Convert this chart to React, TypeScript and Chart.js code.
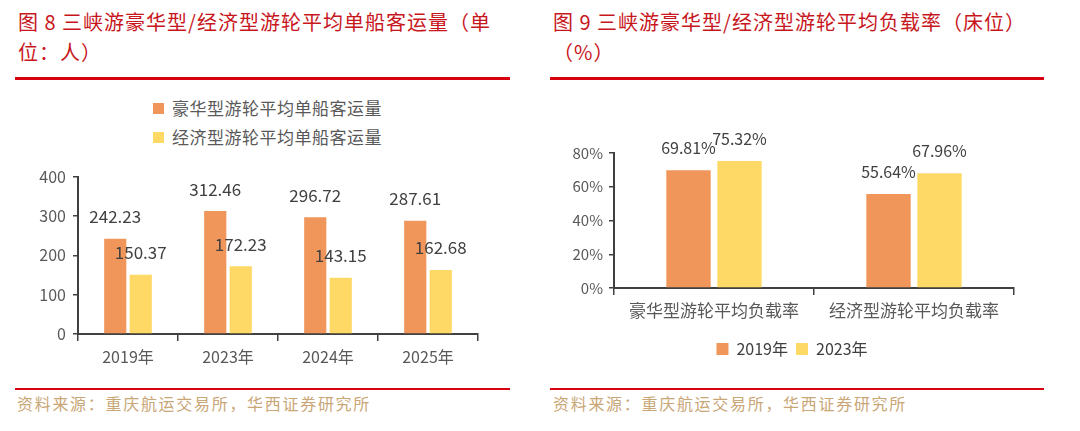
import React, { useEffect, useRef } from 'react';
import Chart from 'chart.js/auto';

// figure 8: average passengers per ship
const years = ['2019年', '2023年', '2024年', '2025年'];
const luxuryPax = [242.23, 312.46, 296.72, 287.61];
const economyPax = [150.37, 172.23, 143.15, 162.68];
const paxSeries = ['豪华型游轮平均单船客运量', '经济型游轮平均单船客运量'];

// figure 9: average load factor (berths)
const loadCats = ['豪华型游轮平均负载率', '经济型游轮平均负载率'];
const loadYears = ['2019年', '2023年'];
const load2019 = [69.81, 55.64];
const load2023 = [75.32, 67.96];

const ORANGE = '#F0965A';
const YELLOW = '#FFD966';
const RED = '#D7000F';
const TITLE_RED = '#C8161D';
const SOURCE = '#C9A676';
const AXIS = '#404040';
const FONT = '"Noto Sans CJK SC", "Noto Sans", sans-serif';

function valueLabels(fmt: (v: number) => string, size: number) {
  return {
    id: 'valueLabels',
    afterDatasetsDraw(chart: any) {
      const { ctx } = chart;
      ctx.save();
      ctx.font = `${size}px ${FONT}`;
      ctx.fillStyle = '#404040';
      ctx.textAlign = 'center';
      ctx.textBaseline = 'middle';
      chart.data.datasets.forEach((ds: any, i: number) => {
        chart.getDatasetMeta(i).data.forEach((bar: any, j: number) => {
          ctx.fillText(fmt(ds.data[j]), bar.x, bar.y - 22);
        });
      });
      ctx.restore();
    },
  };
}

function PaxChart() {
  const ref = useRef<HTMLCanvasElement | null>(null);

  useEffect(() => {
    if (!ref.current) return;
    const chart = new Chart(ref.current, {
      type: 'bar',
      data: {
        labels: years,
        datasets: [
          { label: paxSeries[0], data: luxuryPax, backgroundColor: ORANGE },
          { label: paxSeries[1], data: economyPax, backgroundColor: YELLOW },
        ],
      },
      options: {
        animation: false,
        responsive: true,
        maintainAspectRatio: false,
        layout: { padding: { top: 14, right: 12, left: 0, bottom: 0 } },
        datasets: { bar: { categoryPercentage: 0.51, barPercentage: 0.87 } },
        plugins: { legend: { display: false }, tooltip: { enabled: false } },
        scales: {
          x: {
            grid: { drawOnChartArea: false, tickLength: 7, color: AXIS, lineWidth: 1.5 },
            border: { color: AXIS, width: 2 },
            ticks: { font: { family: FONT, size: 16 }, color: '#595959', padding: 6 },
            afterFit: (s: any) => { s.height = 41; },
          },
          y: {
            min: 0,
            max: 400,
            grid: { drawOnChartArea: false, tickLength: 5, color: AXIS, lineWidth: 1.5 },
            border: { color: AXIS, width: 2 },
            ticks: { stepSize: 100, font: { family: FONT, size: 16 }, color: '#595959', padding: 7 },
            afterFit: (s: any) => { s.width = 58; },
          },
        },
      },
      plugins: [valueLabels((v) => v.toFixed(2), 17)],
    });
    return () => chart.destroy();
  }, []);

  return (
    <div style={{ position: 'absolute', left: 20, top: 160, width: 470, height: 215 }}>
      <canvas ref={ref}></canvas>
    </div>
  );
}

function LoadChart() {
  const ref = useRef<HTMLCanvasElement | null>(null);

  useEffect(() => {
    if (!ref.current) return;
    const chart = new Chart(ref.current, {
      type: 'bar',
      data: {
        labels: loadCats,
        datasets: [
          { label: loadYears[0], data: load2019, backgroundColor: ORANGE },
          { label: loadYears[1], data: load2023, backgroundColor: YELLOW },
        ],
      },
      options: {
        animation: false,
        responsive: true,
        maintainAspectRatio: false,
        layout: { padding: { top: 33, right: 14, left: 0, bottom: 0 } },
        datasets: { bar: { categoryPercentage: 0.51, barPercentage: 0.87 } },
        plugins: {
          tooltip: { enabled: false },
          legend: {
            position: 'bottom',
            labels: {
              boxWidth: 12,
              boxHeight: 12,
              padding: 8,
              color: '#404040',
              font: { family: FONT, size: 16 },
            },
          },
        },
        scales: {
          x: {
            grid: { drawOnChartArea: false, tickLength: 7, color: AXIS, lineWidth: 1.5 },
            border: { color: AXIS, width: 2 },
            ticks: { font: { family: FONT, size: 17 }, color: '#595959', padding: 5 },
            afterFit: (s: any) => { s.height = 45; },
          },
          y: {
            min: 0,
            max: 80,
            grid: { drawOnChartArea: false, tickLength: 5, color: AXIS, lineWidth: 1.5 },
            border: { color: AXIS, width: 2 },
            ticks: {
              stepSize: 20,
              font: { family: FONT, size: 15 },
              color: '#595959',
              padding: 6,
              callback: (v: any) => `${v}%`,
            },
            afterFit: (s: any) => { s.width = 44; },
          },
        },
      },
      plugins: [valueLabels((v) => `${v.toFixed(2)}%`, 16)],
    });
    return () => chart.destroy();
  }, []);

  return (
    <div style={{ position: 'absolute', left: 570, top: 120, width: 458, height: 247 }}>
      <canvas ref={ref}></canvas>
    </div>
  );
}

const titleStyle: React.CSSProperties = {
  position: 'absolute',
  top: 7,
  fontFamily: FONT,
  fontSize: 20,
  lineHeight: '30px',
  letterSpacing: 1,
  color: TITLE_RED,
  whiteSpace: 'nowrap',
};

const sourceStyle: React.CSSProperties = {
  position: 'absolute',
  top: 393,
  fontFamily: FONT,
  fontSize: 16,
  lineHeight: '20px',
  letterSpacing: 1.7,
  color: SOURCE,
  whiteSpace: 'nowrap',
};

function Rule({ left, width, top, height }: { left: number; width: number; top: number; height: number }) {
  return <div style={{ position: 'absolute', left, width, top, height, background: RED }} />;
}

function LegendRow({ color, text, top }: { color: string; text: string; top: number }) {
  return (
    <div style={{ position: 'absolute', left: 153, top, height: 22, display: 'flex', alignItems: 'center' }}>
      <span style={{ width: 11, height: 11, background: color, marginRight: 8 }} />
      <span style={{ fontFamily: FONT, fontSize: 17, letterSpacing: 0.5, color: '#595959', lineHeight: '22px' }}>{text}</span>
    </div>
  );
}

export default function App() {
  return (
    <div style={{ position: 'fixed', left: 0, top: 0, width: 1080, height: 431, background: '#fff', overflow: 'hidden' }}>
      <div style={{ ...titleStyle, left: 18 }}>
        <div>图 8 三峡游豪华型/经济型游轮平均单船客运量（单</div>
        <div>位：人）</div>
      </div>
      <div style={{ ...titleStyle, left: 553 }}>
        <div>图 9 三峡游豪华型/经济型游轮平均负载率（床位）</div>
        <div>（%）</div>
      </div>
      <Rule left={15} width={495} top={77} height={3} />
      <Rule left={550} width={494} top={77} height={3} />

      <LegendRow color={ORANGE} text={paxSeries[0]} top={97} />
      <LegendRow color={YELLOW} text={paxSeries[1]} top={126} />
      <PaxChart />
      <LoadChart />

      <Rule left={15} width={495} top={388} height={2} />
      <Rule left={550} width={494} top={388} height={2} />
      <div style={{ ...sourceStyle, left: 17 }}>资料来源：重庆航运交易所，华西证券研究所</div>
      <div style={{ ...sourceStyle, left: 553 }}>资料来源：重庆航运交易所，华西证券研究所</div>
    </div>
  );
}
